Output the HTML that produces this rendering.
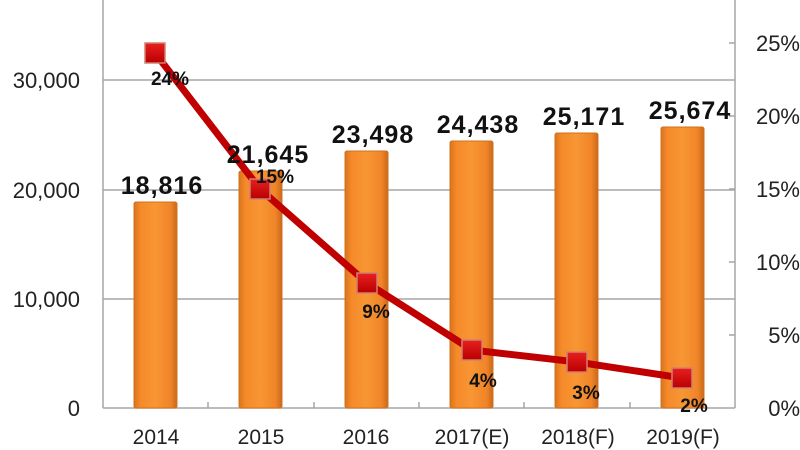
<!DOCTYPE html>
<html><head><meta charset="utf-8"><style>
html,body{margin:0;padding:0;background:#fff;}
svg{display:block;font-family:"Liberation Sans",sans-serif;}
</style></head><body>
<svg width="800" height="450" viewBox="0 0 800 450">
<defs>
<linearGradient id="bg" x1="0" x2="1" y1="0" y2="0">
<stop offset="0" stop-color="#d9731c"/>
<stop offset="0.15" stop-color="#f58a2a"/>
<stop offset="0.5" stop-color="#f89634"/>
<stop offset="0.85" stop-color="#f08428"/>
<stop offset="1" stop-color="#c9681a"/>
</linearGradient>
<linearGradient id="mk" x1="0" x2="0" y1="0" y2="1">
<stop offset="0" stop-color="#e82020"/>
<stop offset="1" stop-color="#b80000"/>
</linearGradient>
</defs>
<g stroke="#a6a6a6" stroke-width="1.5">
<line x1="103" y1="80" x2="735" y2="80"/>
<line x1="103" y1="190" x2="735" y2="190"/>
<line x1="103" y1="299" x2="735" y2="299"/>
<line x1="103" y1="408" x2="735" y2="408"/>
<line x1="103" y1="0" x2="103" y2="408"/>
<line x1="735" y1="0" x2="735" y2="408"/>
<line x1="729" y1="43" x2="735" y2="43"/>
<line x1="729" y1="116" x2="735" y2="116"/>
<line x1="729" y1="189" x2="735" y2="189"/>
<line x1="729" y1="262" x2="735" y2="262"/>
<line x1="729" y1="335" x2="735" y2="335"/>
<line x1="208" y1="402" x2="208" y2="408"/>
<line x1="314" y1="402" x2="314" y2="408"/>
<line x1="419" y1="402" x2="419" y2="408"/>
<line x1="524" y1="402" x2="524" y2="408"/>
<line x1="630" y1="402" x2="630" y2="408"/>
</g>
<g fill="url(#bg)" stroke="#d0701f" stroke-width="1">
<rect x="134" y="202" width="43" height="206" rx="2"/>
<rect x="239" y="171" width="43" height="237" rx="2"/>
<rect x="345" y="151" width="43" height="257" rx="2"/>
<rect x="450" y="141" width="43" height="267" rx="2"/>
<rect x="555" y="133" width="43" height="275" rx="2"/>
<rect x="661" y="127" width="43" height="281" rx="2"/>
</g>
<polyline points="155,53 260,189 367,283 472,350 577,362 682,378" fill="none" stroke="#c00000" stroke-width="7" stroke-linejoin="round"/>
<g fill="url(#mk)" stroke="#d08070" stroke-width="1.5">
<rect x="145" y="43" width="20" height="20"/>
<rect x="250" y="179" width="20" height="20"/>
<rect x="357" y="273" width="20" height="20"/>
<rect x="462" y="340" width="20" height="20"/>
<rect x="567" y="352" width="20" height="20"/>
<rect x="672" y="368" width="20" height="20"/>
</g>
<g font-size="25" font-weight="bold" fill="#111" text-anchor="middle" letter-spacing="1">
<text x="162" y="194">18,816</text>
<text x="268" y="163">21,645</text>
<text x="373" y="143">23,498</text>
<text x="478" y="133">24,438</text>
<text x="584" y="125">25,171</text>
<text x="690" y="119">25,674</text>
</g>
<g font-size="19" font-weight="bold" fill="#111" text-anchor="middle">
<text x="170" y="85">24%</text>
<text x="275" y="183">15%</text>
<text x="376" y="318">9%</text>
<text x="483" y="387">4%</text>
<text x="586" y="399">3%</text>
<text x="694" y="412">2%</text>
</g>
<g font-size="22" fill="#222" text-anchor="end">
<text x="80" y="88">30,000</text>
<text x="80" y="198">20,000</text>
<text x="80" y="307">10,000</text>
<text x="80" y="416">0</text>
</g>
<g font-size="22" fill="#222" text-anchor="end">
<text x="800" y="51">25%</text>
<text x="800" y="124">20%</text>
<text x="800" y="197">15%</text>
<text x="800" y="270">10%</text>
<text x="800" y="343">5%</text>
<text x="800" y="416">0%</text>
</g>
<g font-size="21" fill="#222" text-anchor="middle">
<text x="156" y="444">2014</text>
<text x="261" y="444">2015</text>
<text x="366" y="444">2016</text>
<text x="472" y="444">2017(E)</text>
<text x="578" y="444">2018(F)</text>
<text x="683" y="444">2019(F)</text>
</g>
</svg>
</body></html>
